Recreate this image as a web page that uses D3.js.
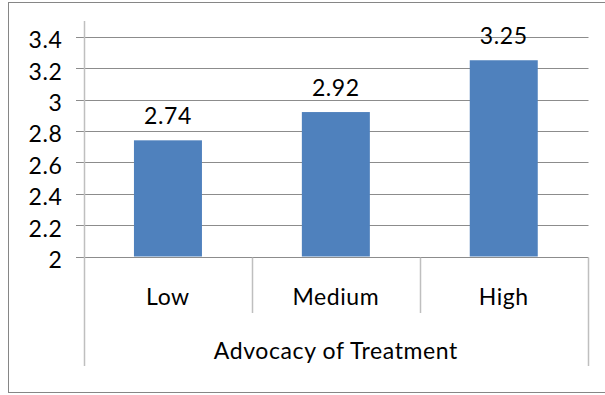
<!DOCTYPE html>
<html>
<head>
<meta charset="utf-8">
<script src="https://cdn.jsdelivr.net/npm/d3@7"></script>
<style>
  html, body { margin: 0; padding: 0; background: #fff; }
  svg { display: block; }
  text { font-family: Lato, "Liberation Sans", sans-serif; fill: #000; letter-spacing: 0.6px; }
</style>
</head>
<body>
<svg id="chart" width="605" height="395"></svg>
<script>
const categories = ["Low", "Medium", "High"];
const values = [2.74, 2.92, 3.25];
const valueLabels = ["2.74", "2.92", "3.25"];
const yTicks = [2, 2.2, 2.4, 2.6, 2.8, 3, 3.2, 3.4];
const yTickLabels = ["2", "2.2", "2.4", "2.6", "2.8", "3", "3.2", "3.4"];
const axisTitle = "Advocacy of Treatment";

const svg = d3.select("#chart");
const fontSize = 23;

// frame
svg.append("rect")
  .attr("x", 8.5).attr("y", 2.5)
  .attr("width", 620).attr("height", 390)
  .attr("fill", "#fff").attr("stroke", "#868686").attr("stroke-width", 1);

const plotLeft = 84, plotRight = 587.7, plotTop = 21, plotBottom = 256.5;
const y = d3.scaleLinear().domain([2, 3.5]).range([plotBottom, plotTop]);
const x = d3.scaleBand().domain(categories).range([plotLeft, plotRight]).padding(0);
const barW = x.bandwidth() * 0.405;
const px = v => Math.round(v) + 0.5;

// gridlines + tick marks
svg.append("g").selectAll("line").data(yTicks).join("line")
  .attr("x1", 76).attr("x2", px(plotRight))
  .attr("y1", d => px(y(d))).attr("y2", d => px(y(d)))
  .attr("stroke", "#8c8c8c").attr("stroke-width", 1);

// y axis line
svg.append("line")
  .attr("x1", px(plotLeft)).attr("x2", px(plotLeft))
  .attr("y1", plotTop).attr("y2", 366)
  .attr("stroke", "#bfbfbf").attr("stroke-width", 1.5);

// category separators
const seps = categories.slice(1).map(c => x(c));
svg.append("g").selectAll("line").data(seps).join("line")
  .attr("x1", d => px(d)).attr("x2", d => px(d))
  .attr("y1", px(plotBottom)).attr("y2", 313)
  .attr("stroke", "#bfbfbf").attr("stroke-width", 1.5);
svg.append("line")
  .attr("x1", px(plotRight)).attr("x2", px(plotRight))
  .attr("y1", px(plotBottom)).attr("y2", 366)
  .attr("stroke", "#bfbfbf").attr("stroke-width", 1.5);

// bars
svg.append("g").selectAll("rect").data(values).join("rect")
  .attr("x", (d, i) => x(categories[i]) + x.bandwidth() / 2 - barW / 2)
  .attr("width", barW)
  .attr("y", d => y(d))
  .attr("height", d => y(2) - y(d))
  .attr("fill", "#4f81bd");

// value labels
svg.append("g").selectAll("text").data(values).join("text")
  .attr("x", (d, i) => x(categories[i]) + x.bandwidth() / 2)
  .attr("y", d => y(d) - 16.5)
  .attr("text-anchor", "middle")
  .style("font-size", fontSize + "px")
  .text((d, i) => valueLabels[i]);

// y tick labels
svg.append("g").selectAll("text").data(yTicks).join("text")
  .attr("x", 62.5)
  .attr("y", d => y(d) + 11.5)
  .attr("text-anchor", "end")
  .style("font-size", fontSize + "px")
  .text((d, i) => yTickLabels[i]);

// category labels
svg.append("g").selectAll("text").data(categories).join("text")
  .attr("x", d => x(d) + x.bandwidth() / 2)
  .attr("y", 305)
  .attr("text-anchor", "middle")
  .style("font-size", fontSize + "px")
  .text(d => d);

// axis title
svg.append("text")
  .attr("x", (plotLeft + plotRight) / 2)
  .attr("y", 359.3)
  .attr("text-anchor", "middle")
  .style("font-size", fontSize + "px")
  .text(axisTitle);
</script>
</body>
</html>
